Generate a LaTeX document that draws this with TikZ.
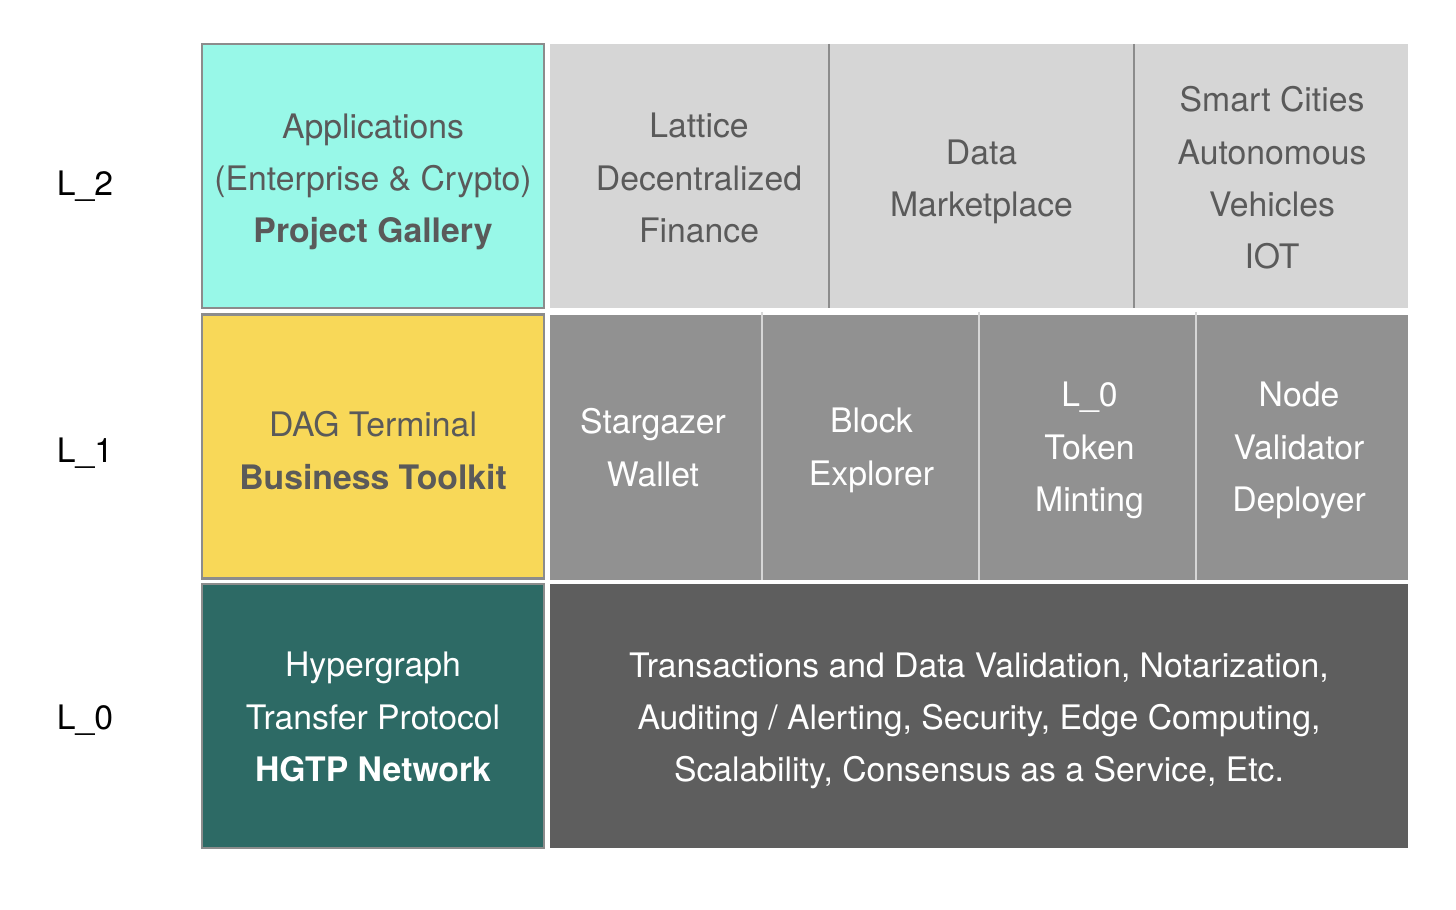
\documentclass[tikz,border=0pt]{standalone}
\usepackage{fontspec}
\setmainfont{TeX Gyre Heros}
\usepackage{xcolor}
\usepackage{tikz}

\definecolor{aqua}{HTML}{98F8E8}
\definecolor{sun}{HTML}{F8D858}
\definecolor{hgtp}{HTML}{2D6A65}
\definecolor{greyA}{HTML}{D6D6D6}
\definecolor{greyB}{HTML}{919191}
\definecolor{greyC}{HTML}{5E5E5E}
\definecolor{rim}{HTML}{8C8C8C}
\definecolor{ink}{HTML}{5A5A5A}

\tikzset{
  cell/.style={inner sep=0pt, outer sep=0pt},
  leftbox/.style={cell, draw=rim, line width=0.7pt,
    minimum width=3.42cm, minimum height=2.64cm},
  txt/.style={inner sep=0pt, align=center,
    font=\fontsize{9.6}{14.9}\selectfont},
  divdark/.style={draw=rim, line width=0.6pt},
  divlight/.style={draw=greyA, line width=0.6pt},
  layer/.style={font=\fontsize{9.6}{14.9}\selectfont, anchor=base}
}

\begin{document}
\begin{tikzpicture}
\useasboundingbox (0,0) rectangle (14.56,9.09);
% left column
\node[leftbox, fill=aqua] (apps) at (3.73,7.33) {};
\node[leftbox, fill=sun] (dag) at (3.73,4.625) {};
\node[leftbox, fill=hgtp] (hgtp) at (3.73,1.93) {};
\node[txt, text=ink] (appsText) at (3.73,7.27) {Applications\\(Enterprise \& Crypto)\\\textbf{Project Gallery}};
\node[txt, text=ink] (dagText) at (3.73,4.585) {DAG Terminal\\\textbf{Business Toolkit}};
\node[txt, text=white] (hgtpText) at (3.73,1.92) {Hypergraph\\Transfer Protocol\\\textbf{HGTP Network}};

% L_2 row
\node[cell, fill=greyA, minimum width=2.79cm, minimum height=2.64cm] (lattice) at (6.895,7.33) {};
\node[cell, fill=greyA, minimum width=3.05cm, minimum height=2.64cm] (market) at (9.815,7.33) {};
\node[cell, fill=greyA, minimum width=2.74cm, minimum height=2.64cm] (cities) at (12.71,7.33) {};
\draw[divdark] (lattice.north east) -- (lattice.south east);
\draw[divdark] (market.north east) -- (market.south east);
\node[txt, text=ink] (latticeText) at (6.99,7.31) {Lattice\\Decentralized\\Finance};
\node[txt, text=ink] (marketText) at (9.815,7.27) {Data\\Marketplace};
\node[txt, text=ink] (citiesText) at (12.72,7.31) {Smart Cities\\Autonomous\\Vehicles\\IOT};

% L_1 row
\node[cell, fill=greyB, minimum width=2.12cm, minimum height=2.65cm] (wallet) at (6.56,4.615) {};
\node[cell, fill=greyB, minimum width=2.17cm, minimum height=2.65cm] (explorer) at (8.705,4.615) {};
\node[cell, fill=greyB, minimum width=2.17cm, minimum height=2.65cm] (minting) at (10.875,4.615) {};
\node[cell, fill=greyB, minimum width=2.12cm, minimum height=2.65cm] (deployer) at (13.02,4.615) {};
\draw[divlight] ([yshift=0.03cm]wallet.north east) -- (wallet.south east);
\draw[divlight] ([yshift=0.03cm]explorer.north east) -- (explorer.south east);
\draw[divlight] ([yshift=0.03cm]minting.north east) -- (minting.south east);
\node[txt, text=white] (walletText) at (6.53,4.615) {Stargazer\\Wallet};
\node[txt, text=white] (explorerText) at (8.715,4.585) {Block\\Explorer};
\node[txt, text=white] (mintingText) at (10.895,4.585) {L\_0\\Token\\Minting};
\node[txt, text=white] (deployerText) at (12.99,4.585) {Node\\Validator\\Deployer};

% L_0 row
\node[cell, fill=greyC, minimum width=8.58cm, minimum height=2.64cm] (services) at (9.79,1.93) {};
\node[txt, text=white] (servicesText) at (9.79,1.88) {Transactions and Data Validation, Notarization,\\Auditing / Alerting, Security, Edge Computing,\\Scalability, Consensus as a Service, Etc.};

% layer labels
\node[layer] (ltwo) at (0.85,7.13) {L\_2};
\node[layer] (lone) at (0.85,4.47) {L\_1};
\node[layer] (lzero) at (0.85,1.80) {L\_0};
\end{tikzpicture}
\end{document}
